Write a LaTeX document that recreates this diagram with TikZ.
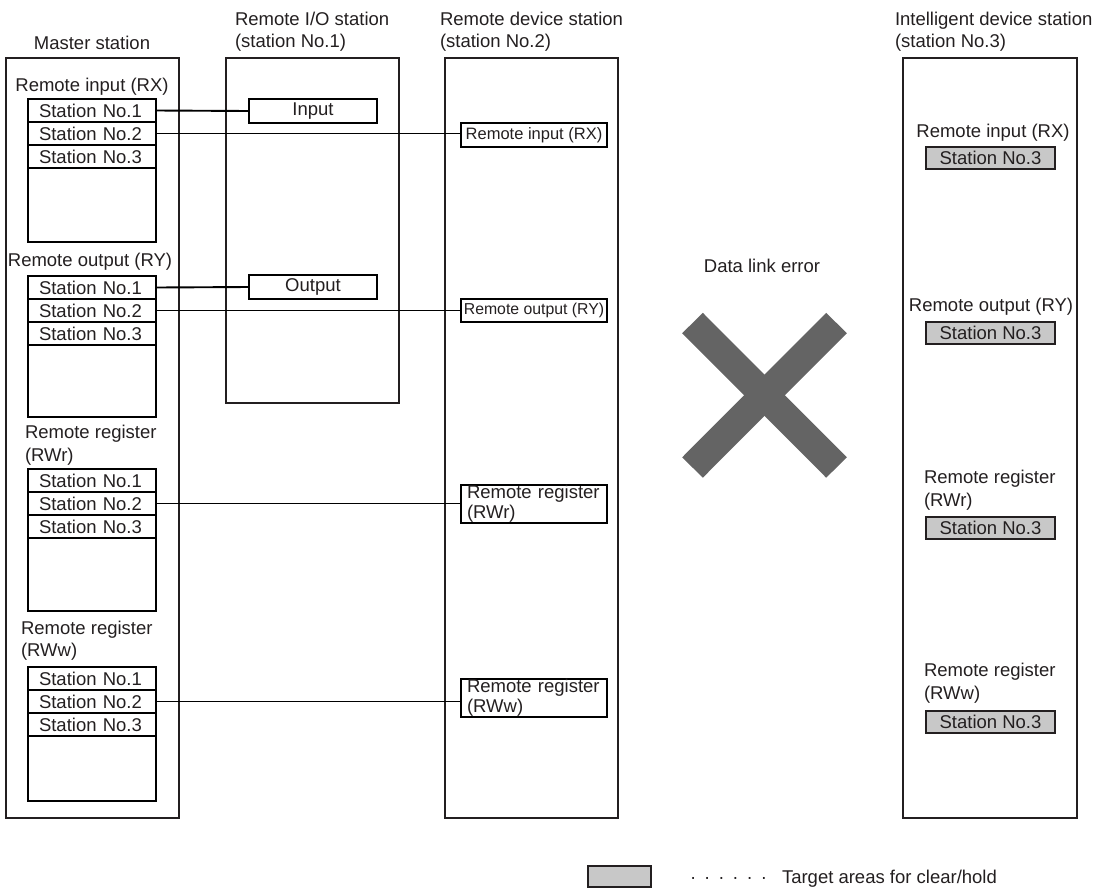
\documentclass[tikz,border=0pt]{standalone}
\usepackage{fontspec}
\setmainfont{Liberation Sans}
\definecolor{ink}{HTML}{231F20}
\definecolor{fillgray}{HTML}{C8C8C8}
\definecolor{xgray}{HTML}{646464}
\newcommand\fmain{\fontsize{18.5}{22}\selectfont}
\newcommand\dotgap{\hspace{8pt}}
\begin{document}
\begin{tikzpicture}[x=1pt,y=-1pt,
  every node/.style={text=ink,font=\fmain,outer sep=0pt},
  frame/.style={draw=ink,line width=1.3pt,anchor=north west,inner sep=0pt},
  hdr/.style={anchor=north west,align=left,inner sep=0pt},
  row/.style={draw=black,line width=1.8pt,anchor=north west,minimum height=23,
    inner xsep=11pt,inner ysep=0pt,text width=106pt,align=left},
  rest/.style={draw=black,line width=1.8pt,anchor=north west,minimum width=128,inner sep=0pt},
  iobox/.style={draw=black,line width=1.8pt,anchor=north west,minimum width=128,minimum height=24,inner sep=0pt},
  devbox/.style={draw=black,line width=1.5pt,anchor=north west,minimum width=146,inner sep=0pt},
  regbox/.style={devbox,minimum height=38,inner xsep=6pt,text width=134pt,align=left,
    font=\fontsize{18.5}{20}\selectfont},
  target/.style={draw=ink,fill=fillgray,line width=1.4pt,anchor=north west,
    minimum width=129,minimum height=22,inner sep=0pt},
  conn/.style={draw=black,line width=1.9pt}
]
\useasboundingbox (0,0) rectangle (1096,892);

% headers
\node (hmaster) at (92,42.5) {Master station};
\node[hdr] (hio) at (235,12.5) {Remote I/O station\\(station No.1)};
\node[hdr] (hdev) at (440,12.5) {Remote device station\\(station No.2)};
\node[hdr] (hint) at (895,12.5) {Intelligent device station\\(station No.3)};

% station frames
\node[frame,minimum width=173,minimum height=760] (master) at (6,58) {};
\node[frame,minimum width=173,minimum height=345] (rio) at (226,58) {};
\node[frame,minimum width=173,minimum height=760] (dev) at (445,58) {};
\node[frame,minimum width=174,minimum height=760] (intel) at (903,58) {};

% master: remote input
\node (lrx) at (92,86.5) {Remote input (RX)};
\node[row] (rx1) at (28,99) {Station No.1};
\node[row] (rx2) at (28,122) {Station No.2};
\node[row] (rx3) at (28,145) {Station No.3};
\node[rest,minimum height=74] (rx4) at (28,168) {};

% master: remote output
\node (lry) at (90,261.5) {Remote output (RY)};
\node[row] (ry1) at (28,276) {Station No.1};
\node[row] (ry2) at (28,299) {Station No.2};
\node[row] (ry3) at (28,322) {Station No.3};
\node[rest,minimum height=72] (ry4) at (28,345) {};

% master: RWr
\node[hdr,font=\fontsize{18.5}{23}\selectfont] (lrwr) at (25,425) {Remote register\\(RWr)};
\node[row] (rwr1) at (28,469) {Station No.1};
\node[row] (rwr2) at (28,492) {Station No.2};
\node[row] (rwr3) at (28,515) {Station No.3};
\node[rest,minimum height=73] (rwr4) at (28,538) {};

% master: RWw
\node[hdr,font=\fontsize{18.5}{22}\selectfont] (lrww) at (21,621) {Remote register\\(RWw)};
\node[row] (rww1) at (28,667) {Station No.1};
\node[row] (rww2) at (28,690) {Station No.2};
\node[row] (rww3) at (28,713) {Station No.3};
\node[rest,minimum height=65] (rww4) at (28,736) {};

% remote I/O station
\node[iobox] (inp) at (249,99) {Input};
\node[iobox] (outp) at (249,275) {Output};

% remote device station
\node[devbox,minimum height=24,font=\fontsize{16.5}{18}\selectfont] (devrx) at (461,123) {Remote input (RX)};
\node[devbox,minimum height=23,font=\fontsize{15.8}{18}\selectfont] (devry) at (461,299) {Remote output (RY)};
\node[regbox] (devrwr) at (461,485) {Remote register\\(RWr)};
\node[regbox] (devrww) at (461,679) {Remote register\\(RWw)};

% connectors
\draw[conn] (rx1.east) -- (inp.west);
\draw[conn] (ry1.east) -- (outp.west);
\draw[conn] (rx2.east) -- (rx2.east -| devrx.west);
\draw[conn] (ry2.east) -- (ry2.east -| devry.west);
\draw[conn] (rwr2.east) -- (rwr2.east -| devrwr.west);
\draw[conn] (rww2.east) -- (rww2.east -| devrww.west);

% data link error
\node (dle) at (762,266) {Data link error};
\draw[xgray,line width=29pt] (692.5,323) -- (836.5,467.5);
\draw[xgray,line width=29pt] (836.5,323) -- (692.5,467.5);

% intelligent device station
\node (irxl) at (993,132.5) {Remote input (RX)};
\node[target] (irx) at (926,147) {Station No.3};
\node (iryl) at (991,306.5) {Remote output (RY)};
\node[target] (iry) at (926,322) {Station No.3};
\node[hdr,font=\fontsize{18.5}{23}\selectfont] (irwrl) at (924,470) {Remote register\\(RWr)};
\node[target] (irwr) at (926,517) {Station No.3};
\node[hdr,font=\fontsize{18.5}{23}\selectfont] (irwwl) at (924,663) {Remote register\\(RWw)};
\node[target] (irww) at (926,711) {Station No.3};

% legend
\node[target,minimum width=63,minimum height=21] (leg) at (588,866) {};
\node[anchor=base west,inner sep=0pt] (legdots) at (690,883) {·\dotgap·\dotgap·\dotgap·\dotgap·\dotgap·};
\node[anchor=base west,inner sep=0pt] (legtext) at (782,883) {Target areas for clear/hold};
\end{tikzpicture}
\end{document}
